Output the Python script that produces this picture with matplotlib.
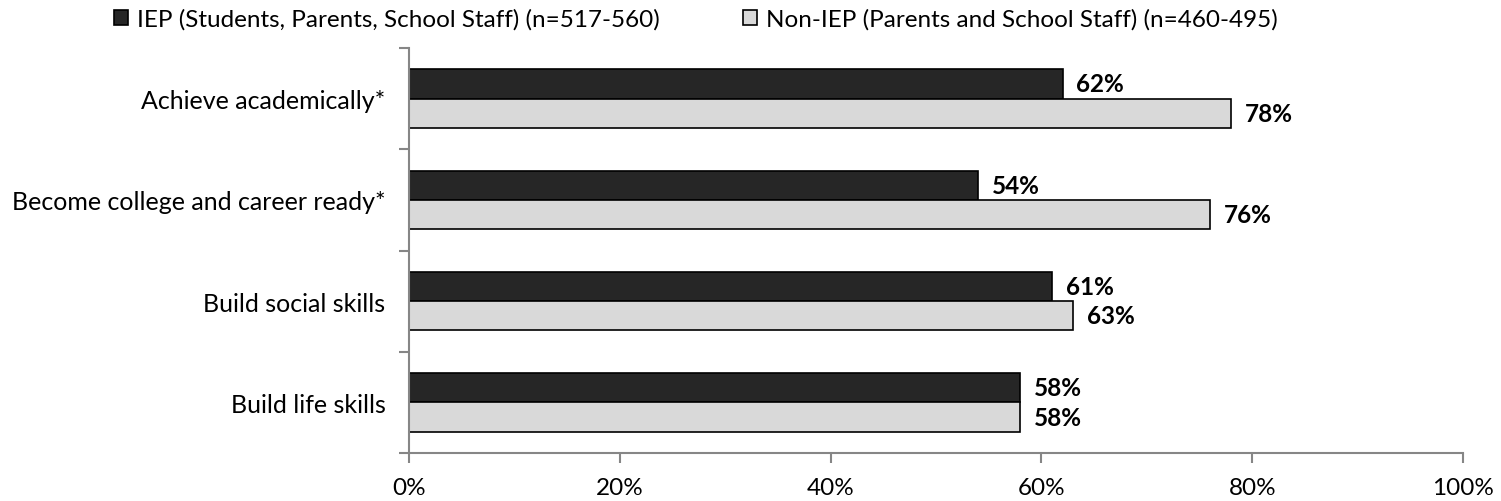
import numpy as np
import matplotlib.pyplot as plt

categories = ['Achieve academically*', 'Become college and career ready*',
              'Build social skills', 'Build life skills']
iep = [62, 54, 61, 58]
non_iep = [78, 76, 63, 58]
series_names = ['IEP (Students, Parents, School Staff) (n=517-560)',
                'Non-IEP (Parents and School Staff) (n=460-495)']

plt.rcParams['font.family'] = ['Lato', 'DejaVu Sans']
fs = 17.5

fig = plt.figure(figsize=(15.01, 5.02), dpi=100)
ax = fig.add_axes([0.2725, 0.0956, 0.7022, 0.8068])

y = np.arange(len(categories))
h = 0.29
gray = '#868686'

b1 = ax.barh(y - h / 2, iep, height=h, color='#262626', edgecolor='black',
             linewidth=1.2, label=series_names[0])
b2 = ax.barh(y + h / 2, non_iep, height=h, color='#d9d9d9', edgecolor='black',
             linewidth=1.2, label=series_names[1])

# value labels just past the end of each bar
for bars, vals in [(b1, iep), (b2, non_iep)]:
    for bar, v in zip(bars, vals):
        ax.text(v + 1.3, bar.get_y() + bar.get_height() / 2, f'{v}%',
                va='center', ha='left', fontsize=fs, fontweight='bold')

ax.set_xlim(0, 100)
ax.set_ylim(len(categories) - 0.5, -0.5)
ax.set_xticks(np.arange(0, 101, 20))
ax.set_xticklabels([f'{t}%' for t in range(0, 101, 20)], fontsize=fs)
ax.set_yticks(y)
ax.set_yticklabels(categories, fontsize=18)
ax.set_yticks(np.arange(-0.5, len(categories), 1), minor=True)
ax.tick_params(axis='y', which='major', length=0, pad=17)
ax.tick_params(axis='y', which='minor', length=7, color=gray, width=1.5)
ax.tick_params(axis='x', length=7, color=gray, width=1.5, pad=10)

for s in ['top', 'right']:
    ax.spines[s].set_visible(False)
for s in ['left', 'bottom']:
    ax.spines[s].set_color(gray)
    ax.spines[s].set_linewidth(1.5)

fig.legend(handles=[b1, b2], loc='center', bbox_to_anchor=(0.4637, 0.96), ncol=2,
           frameon=False, fontsize=fs, handlelength=0.58, handleheight=0.58,
           handletextpad=0.37, columnspacing=3.4, borderaxespad=0)

fig.savefig('out.png', dpi=100)
